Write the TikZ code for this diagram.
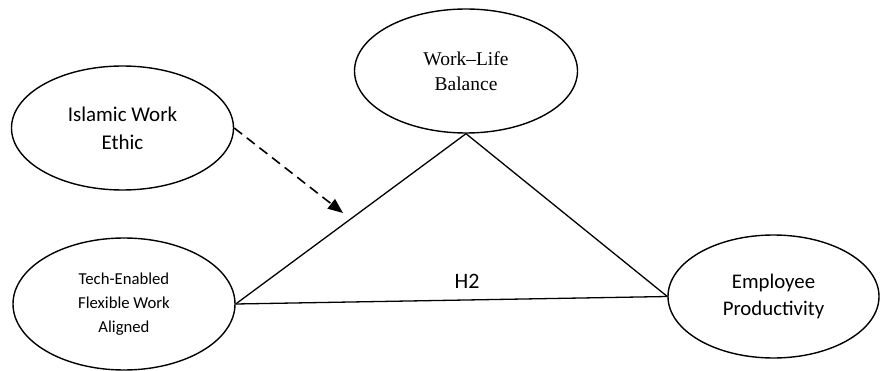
\documentclass[tikz,border=0pt]{standalone}
\usepackage{fontspec}
\setmainfont{Carlito}
\newfontfamily\serifwl{Liberation Serif}
\usetikzlibrary{shapes.geometric,arrows.meta}
\begin{document}
\begin{tikzpicture}[x=1pt,y=-1pt,
  oval/.style={ellipse,draw,line width=1.4pt,inner sep=0pt,align=center},
  link/.style={line width=1.3pt},
  dashlink/.style={line width=1.6pt,dash pattern=on 10pt off 6pt,-{Triangle[length=15pt,width=12pt]}}]
\useasboundingbox (0,0) rectangle (880,371);
\node[oval,minimum width=222pt,minimum height=124pt,
  font=\fontsize{21}{28}\selectfont] (iwe) at (122.5,128) {Islamic Work\\Ethic};
\node[oval,minimum width=223pt,minimum height=124pt,
  font=\serifwl\fontsize{19.5}{25}\selectfont] (wlb) at (466,71) {Work–Life\\Balance};
\node[oval,minimum width=222pt,minimum height=132pt,
  font=\fontsize{16.7}{24}\selectfont] (tfw) at (124,304) {Tech-Enabled\\Flexible Work\\Aligned};
\node[oval,minimum width=211pt,minimum height=123pt,
  font=\fontsize{20.8}{27}\selectfont] (emp) at (773.5,296.5) {Employee\\Productivity};
\coordinate (tip) at (343,213);
\draw[link] (tfw.east) -- (wlb.south) -- (emp.west);
\draw[link] (tfw.east) -- (emp.west);
\draw[dashlink] (iwe.east) -- (tip);
\node[font=\fontsize{22}{26}\selectfont] (h2) at (467,281) {H2};
\end{tikzpicture}
\end{document}
